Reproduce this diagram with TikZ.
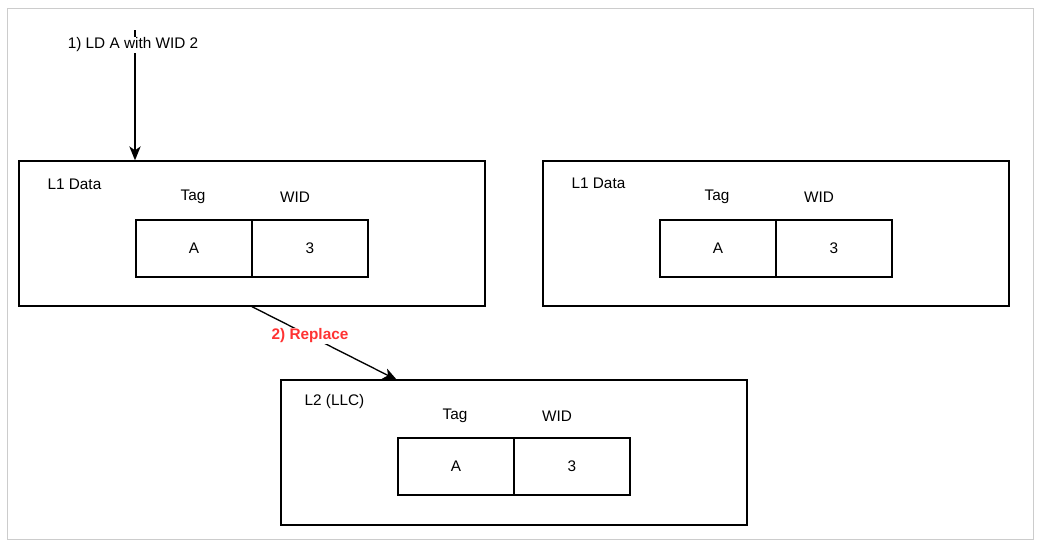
\documentclass[tikz,border=0pt]{standalone}
\usepackage{fontspec}
\setmainfont{Liberation Sans}
\usetikzlibrary{arrows.meta, positioning}
\definecolor{replred}{HTML}{FF3333}

\begin{document}
\begin{tikzpicture}[x=0.75pt, y=-0.75pt,
            cache/.style={draw, rectangle, line width=1pt, minimum width=349.5pt, minimum height=108.75pt},
            cell/.style={draw, rectangle, line width=1pt, minimum width=87pt, minimum height=42.75pt, font=\fontsize{11.5}{13}\selectfont},
            lbl/.style={font=\fontsize{11.5}{13}\selectfont, inner sep=1pt},
            tip/.style={-{Stealth[length=10.5pt, width=8.5pt, inset=3pt]}, line width=1pt}]
            \useasboundingbox (0,0) rectangle (1046,546);
            \draw[black!20, line width=0.75pt] (7,8) rectangle (1033,539);

            % left L1
            \node[cache] (l1a) at (252,233.5) {};
            \node[lbl, anchor=west] (l1aname) at (46,184) {L1 Data};
            \node[cell] (l1atag) at (194,248.5) {A};
            \node[cell] (l1awid) at (310,248.5) {3};
            \node[lbl] (l1ataghd) at (193,197) {Tag};
            \node[lbl] (l1awidhd) at (295,197) {WID};

            % right L1
            \node[cache] (l1b) at (776,233.5) {};
            \node[lbl, anchor=west] (l1bname) at (570,183) {L1 Data};
            \node[cell] (l1btag) at (718,248.5) {A};
            \node[cell] (l1bwid) at (834,248.5) {3};
            \node[lbl] (l1btaghd) at (717,197) {Tag};
            \node[lbl] (l1bwidhd) at (819,197) {WID};

            % L2
            \node[cache] (l2) at (514,452.5) {};
            \node[lbl, anchor=west] (l2name) at (303,402) {L2 (LLC)};
            \node[cell] (l2tag) at (456,466.5) {A};
            \node[cell] (l2wid) at (572,466.5) {3};
            \node[lbl] (l2taghd) at (455,416) {Tag};
            \node[lbl] (l2widhd) at (557,416) {WID};

            % 1) load
            \coordinate (ldtop) at (135,30);
            \draw[tip] (ldtop) -- (ldtop |- l1a.north);
            \node[lbl, fill=white] (ld) at (133,45) {1) LD A with WID 2};

            % 2) replace
            \coordinate (l2in) at (397,380);
            \draw[tip] (l1a.south) -- (l2in)
                node[pos=0.4, lbl, fill=white, text=replred, font=\fontsize{11.5}{13}\selectfont\bfseries] (repl) {2) Replace};
        \end{tikzpicture}
\end{document}
